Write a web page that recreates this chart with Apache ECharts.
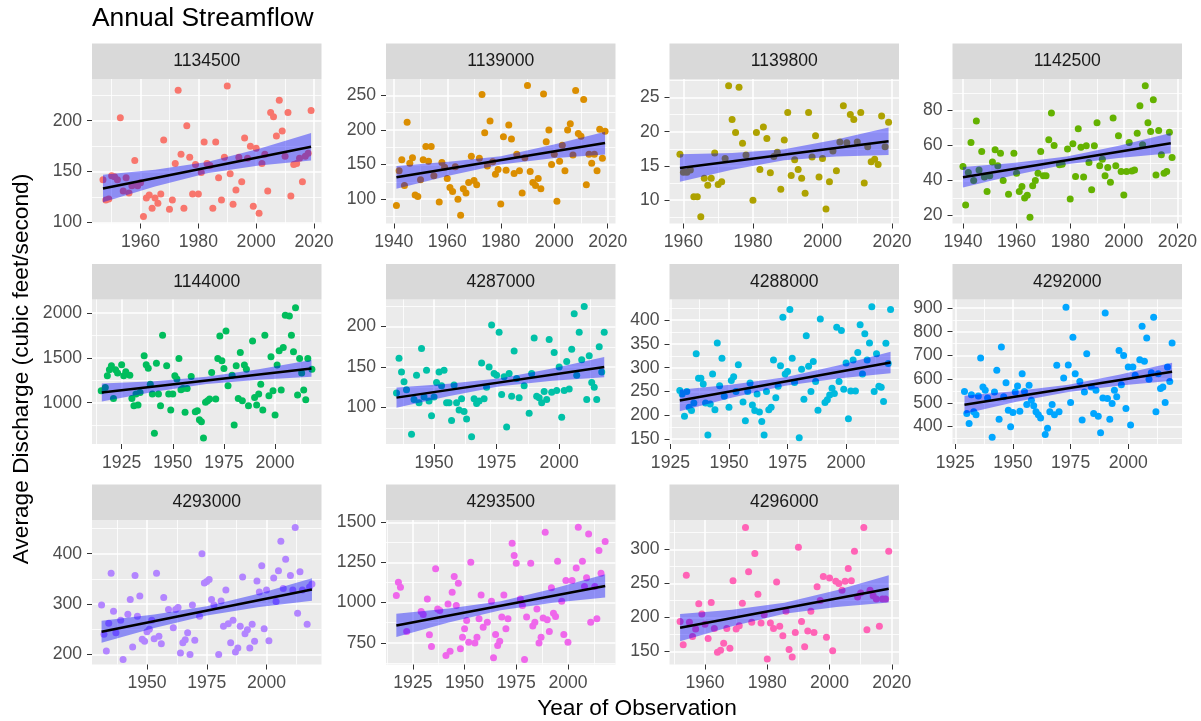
<!DOCTYPE html>
<html><head><meta charset="utf-8">
<script src="https://cdn.jsdelivr.net/npm/echarts@6/dist/echarts.min.js"></script>
<style>html,body{margin:0;padding:0;background:#fff}#c{width:1201px;height:721px}</style>
</head><body><div id="c"></div>
<script>
const stations = ['1134500','1139000','1139800','1142500','1144000','4287000','4288000','4292000','4293000','4293500','4296000'];
const colors = ['#F8766D','#DB8E00','#AEA200','#64B200','#00BD5C','#00C1A7','#00BADE','#00A6FF','#B385FF','#EF67EB','#FF63B6'];

const flow_1134500 = [[1947,142],[1948,122],[1949,123],[1950,146],[1951,145],[1952,142],[1953,203],[1954,131],[1955,144],[1956,129],[1957,136],[1958,161],[1959,136],[1960,139],[1961,106],[1962,124],[1963,127],[1964,114],[1965,124],[1966,119],[1967,128],[1968,181],[1970,113],[1971,122],[1972,158],[1973,230],[1974,167],[1975,114],[1976,195],[1977,164],[1978,128],[1979,157],[1980,128],[1981,149],[1982,179],[1983,158],[1984,156],[1985,114],[1986,179],[1987,144],[1988,122],[1989,164],[1990,234],[1991,148],[1992,118],[1993,132],[1994,164],[1995,140],[1996,183],[1997,163],[1998,175],[1999,116],[2000,173],[2001,109],[2002,158],[2003,167],[2004,131],[2005,208],[2006,204],[2007,185],[2008,220],[2009,190],[2010,165],[2011,208],[2012,126],[2013,157],[2014,158],[2015,163],[2016,140],[2017,165],[2018,168],[2019,210]];
const flow_1139000 = [[1941,91],[1942,141],[1943,157],[1944,120],[1945,211],[1946,152],[1947,160],[1948,106],[1949,104],[1950,128],[1951,157],[1952,176],[1953,155],[1954,176],[1955,134],[1957,96],[1958,153],[1959,146],[1960,130],[1961,117],[1962,111],[1963,147],[1964,100],[1965,77],[1966,115],[1967,109],[1968,124],[1969,162],[1970,127],[1971,121],[1972,159],[1973,251],[1974,196],[1975,148],[1976,213],[1977,154],[1978,136],[1979,143],[1980,93],[1981,190],[1982,142],[1983,207],[1984,187],[1985,137],[1986,165],[1987,141],[1988,109],[1989,160],[1990,264],[1991,140],[1992,124],[1993,120],[1994,130],[1995,115],[1996,252],[1997,183],[1998,200],[1999,150],[2000,165],[2001,97],[2002,155],[2003,178],[2004,141],[2005,200],[2006,209],[2007,164],[2008,257],[2009,195],[2010,191],[2011,244],[2012,121],[2013,165],[2014,152],[2015,165],[2016,141],[2017,201],[2018,159],[2019,198]];
const flow_1139800 = [[1959,16.7],[1960,14.1],[1961,14.1],[1962,14.4],[1963,10.5],[1964,10.5],[1965,7.6],[1966,13.2],[1967,12.2],[1968,13.2],[1969,16.9],[1970,12.3],[1971,12.7],[1972,16.1],[1973,26.7],[1974,21.8],[1975,19.9],[1976,26.5],[1977,18.3],[1978,16.6],[1980,10.0],[1981,19.9],[1982,14.5],[1983,20.7],[1984,19.0],[1985,14.0],[1986,16.4],[1987,17.0],[1988,11.6],[1989,18.8],[1990,22.8],[1991,13.6],[1992,15.9],[1993,14.5],[1994,13.2],[1995,11.0],[1996,22.8],[1997,16.3],[1998,19.4],[1999,13.4],[2000,16.1],[2001,8.7],[2002,12.7],[2003,17.2],[2004,14.3],[2005,18.5],[2006,23.8],[2007,18.4],[2008,22.5],[2009,21.8],[2010,18.5],[2011,22.8],[2012,12.5],[2013,17.8],[2014,15.6],[2015,16.0],[2016,15.2],[2017,22.3],[2018,17.8],[2019,21.4]];
const flow_1142500 = [[1940,48],[1941,26],[1942,44.6],[1943,61.7],[1944,40],[1945,74],[1946,46],[1947,56.6],[1948,42],[1949,33.7],[1950,42.7],[1951,50.5],[1952,57.5],[1953,48.4],[1954,55.6],[1955,40],[1957,32.2],[1959,55.6],[1960,44.2],[1961,33.7],[1962,36.6],[1963,30],[1964,31.6],[1965,19],[1966,37],[1967,40],[1968,44.2],[1969,56.6],[1970,42.7],[1971,42.7],[1972,63.2],[1973,78.5],[1974,60],[1976,49],[1977,49.3],[1979,58],[1980,29.5],[1981,61],[1982,42.3],[1983,69.5],[1984,59],[1985,42],[1986,59.8],[1987,50.3],[1988,34.7],[1989,59.8],[1990,73],[1991,48.4],[1992,52.2],[1993,42.7],[1994,47.4],[1995,39],[1996,75.6],[1997,48.4],[1998,65.5],[1999,45.1],[2000,31.8],[2001,45.1],[2002,61.7],[2003,45.5],[2004,46],[2005,67],[2006,82.7],[2007,60.4],[2008,94],[2009,73],[2010,68],[2011,86],[2012,43.2],[2013,68.6],[2014,54.7],[2015,44.2],[2016,45.1],[2017,67.6],[2018,53.1]];
const flow_1144000 = [[1915,1133],[1917,1170],[1918,1300],[1919,1367],[1920,1411],[1921,1048],[1922,1367],[1923,1330],[1925,1422],[1926,1300],[1927,1344],[1929,1307],[1930,1048],[1931,967],[1932,1096],[1933,974],[1934,1115],[1936,1522],[1937,1422],[1938,1385],[1939,1207],[1940,1096],[1941,659],[1942,1441],[1943,1096],[1944,967],[1945,1752],[1947,1411],[1948,1096],[1949,919],[1950,1096],[1951,1300],[1952,1263],[1953,1493],[1954,1144],[1955,1159],[1956,893],[1957,1159],[1959,1293],[1961,900],[1962,911],[1963,811],[1964,789],[1965,607],[1966,1004],[1967,1022],[1968,1041],[1969,1337],[1971,1041],[1972,1493],[1973,1744],[1974,1467],[1975,1381],[1976,1800],[1977,1189],[1979,1307],[1980,752],[1981,1411],[1982,1048],[1983,1559],[1984,1022],[1985,1419],[1986,1374],[1987,967],[1989,1689],[1990,1059],[1991,974],[1992,1096],[1993,1207],[1994,919],[1995,1752],[1997,1078],[1998,1511],[1999,1133],[2000,863],[2001,1419],[2002,1578],[2003,1141],[2004,1615],[2005,1974],[2007,1967],[2008,1752],[2009,1567],[2010,2059],[2011,1085],[2012,1493],[2013,1330],[2014,1141],[2015,1033],[2016,1493],[2018,1374]];
const flow_4287000 = [[1935,118],[1936,161],[1937,144],[1938,132],[1939,122],[1941,67],[1942,110],[1943,140],[1944,106],[1945,173],[1946,113],[1947,146],[1948,108],[1949,90],[1950,113],[1951,131],[1952,144],[1953,127],[1954,146],[1955,106],[1956,106],[1957,84],[1958,128],[1959,106],[1960,97],[1961,111],[1962,95],[1963,86],[1965,64],[1966,111],[1967,105],[1968,108],[1969,155],[1970,111],[1971,125],[1972,150],[1973,202],[1974,142],[1975,140],[1976,193],[1977,116],[1978,138],[1979,76],[1980,142],[1981,114],[1982,170],[1983,136],[1984,112],[1986,127],[1988,93],[1989,142],[1990,186],[1991,114],[1992,112],[1993,106],[1994,120],[1995,110],[1996,184],[1997,119],[1998,168],[1999,121],[2000,150],[2001,88],[2002,121],[2003,157],[2004,123],[2005,172],[2006,216],[2007,140],[2008,193],[2009,159],[2010,225],[2011,110],[2012,164],[2013,131],[2014,125],[2015,110],[2016,175],[2017,144],[2018,193]];
const flow_4288000 = [[1929,252],[1930,245],[1931,198],[1932,250],[1933,217],[1934,210],[1935,226],[1936,329],[1937,278],[1938,278],[1939,266],[1940,226],[1941,159],[1942,224],[1943,287],[1944,212],[1945,352],[1946,262],[1947,320],[1948,240],[1950,217],[1951,273],[1952,281],[1953,250],[1954,306],[1956,228],[1957,189],[1958,250],[1959,268],[1960,222],[1961,210],[1962,245],[1963,207],[1964,187],[1965,159],[1966,250],[1967,212],[1968,217],[1969,316],[1970,237],[1971,261],[1972,304],[1973,406],[1974,287],[1975,292],[1976,422],[1977,320],[1978,269],[1980,153],[1981,297],[1982,234],[1983,367],[1984,303],[1985,250],[1986,313],[1987,271],[1988,211],[1989,402],[1991,227],[1992,233],[1993,243],[1994,257],[1995,246],[1996,385],[1997,271],[1998,378],[1999,255],[2000,310],[2001,193],[2002,251],[2003,316],[2004,251],[2005,332],[2006,390],[2007,287],[2008,371],[2009,316],[2010,352],[2011,428],[2012,250],[2013,329],[2014,261],[2015,259],[2016,229],[2017,351],[2018,309],[2019,422]];
const flow_4292000 = [[1929,548],[1930,455],[1931,413],[1932,534],[1933,462],[1934,450],[1935,529],[1936,689],[1937,567],[1938,553],[1939,520],[1941,354],[1942,546],[1943,637],[1944,431],[1945,735],[1946,525],[1947,585],[1948,469],[1949,399],[1950,459],[1951,546],[1952,571],[1953,464],[1954,623],[1955,548],[1956,493],[1957,574],[1958,511],[1959,487],[1960,462],[1961,450],[1962,436],[1964,366],[1965,392],[1966,462],[1967,493],[1968,450],[1969,658],[1970,462],[1972,605],[1973,903],[1974,660],[1975,501],[1976,777],[1977,623],[1979,590],[1980,427],[1981,546],[1982,707],[1984,567],[1985,455],[1986,553],[1987,443],[1988,373],[1989,520],[1990,879],[1991,518],[1992,431],[1993,497],[1994,553],[1995,525],[1996,721],[1997,576],[1998,700],[1999,476],[2000,651],[2001,406],[2002,651],[2003,616],[2005,682],[2006,823],[2007,675],[2008,773],[2009,599],[2010,627],[2011,861],[2012,462],[2013,623],[2014,560],[2015,567],[2016,501],[2017,651],[2018,590],[2019,752]];
const flow_4293000 = [[1931,298],[1932,240],[1933,207],[1934,262],[1935,361],[1936,286],[1937,243],[1939,268],[1940,190],[1942,280],[1943,309],[1944,215],[1945,357],[1946,276],[1947,316],[1948,230],[1949,226],[1950,245],[1951,250],[1952,268],[1953,231],[1954,361],[1955,236],[1956,221],[1957,313],[1959,289],[1961,253],[1962,289],[1963,293],[1964,203],[1965,223],[1966,229],[1967,243],[1968,200],[1969,298],[1970,228],[1972,276],[1973,400],[1974,342],[1975,345],[1976,349],[1977,309],[1978,298],[1980,200],[1981,306],[1982,256],[1983,328],[1984,261],[1985,223],[1986,268],[1987,205],[1988,213],[1989,256],[1990,354],[1991,241],[1992,249],[1993,213],[1994,260],[1995,226],[1996,346],[1997,324],[1998,376],[1999,251],[2000,328],[2001,227],[2003,352],[2004,305],[2005,366],[2006,425],[2007,331],[2008,389],[2010,357],[2011,328],[2012,452],[2013,282],[2014,364],[2015,328],[2017,260],[2018,334],[2019,340]];
const flow_4293500 = [[1917,1044],[1918,1127],[1919,1096],[1922,820],[1929,945],[1930,926],[1932,1023],[1933,800],[1934,727],[1936,1210],[1937,961],[1938,951],[1941,671],[1942,992],[1943,698],[1944,1065],[1945,1162],[1946,982],[1947,1121],[1948,713],[1949,785],[1950,837],[1951,889],[1952,754],[1953,1251],[1955,748],[1956,785],[1957,899],[1958,1048],[1959,847],[1961,878],[1963,1009],[1964,657],[1965,802],[1966,733],[1967,760],[1968,910],[1969,1048],[1970,837],[1971,899],[1973,1369],[1974,1293],[1975,1245],[1977,1023],[1978,982],[1979,646],[1980,910],[1982,1245],[1983,854],[1984,878],[1985,961],[1986,748],[1987,785],[1988,905],[1989,1438],[1990,893],[1991,820],[1992,1092],[1993,934],[1994,914],[1995,1258],[1997,1009],[1998,802],[1999,1137],[2000,754],[2002,1137],[2004,1216],[2005,1469],[2007,1258],[2008,1100],[2009,1154],[2010,1427],[2011,878],[2013,1100],[2014,899],[2015,1324],[2016,1183],[2018,1380]];
const flow_4296000 = [[1952,194],[1953,160],[1954,262],[1955,193],[1956,172],[1957,183],[1958,220],[1959,205],[1960,190],[1961,169],[1962,222],[1963,184],[1964,149],[1965,152],[1966,162],[1967,184],[1968,155],[1969,254],[1970,183],[1971,188],[1972,221],[1973,332],[1974,267],[1975,193],[1976,294],[1977,234],[1978,192],[1979,204],[1980,139],[1981,192],[1982,184],[1983,252],[1984,187],[1985,173],[1986,209],[1987,153],[1988,142],[1989,178],[1990,303],[1991,194],[1992,157],[1993,180],[1994,209],[1995,178],[1996,245],[1997,225],[1998,260],[1999,171],[2000,258],[2001,151],[2002,253],[2003,250],[2004,240],[2005,253],[2006,272],[2007,254],[2008,297],[2009,230],[2010,236],[2011,332],[2012,182],[2013,240],[2014,232],[2015,227],[2016,187],[2017,227],[2018,227],[2019,297]];

// fitted line end points and confidence band [year, lower, upper]
const fit_1134500 = [[1947,133.3],[2019,174.5]];
const band_1134500 = [[1947,119.8,146.8],[1965,135.3,151.9],[1983,148.4,159.4],[2001,155.9,172.5],[2019,161,188]];
const fit_1139000 = [[1941,131.6],[2019,181]];
const band_1139000 = [[1941,115,148],[1960.5,134,154],[1980,150,162],[1999.5,159,178.5],[2019,164.5,197.5]];
const fit_1139800 = [[1959,14.7],[2019,18.6]];
const band_1139800 = [[1959,12.7,16.7],[1974,14.45,16.9],[1989,15.85,17.45],[2004,16.4,18.85],[2019,16.6,20.6]];
const fit_1142500 = [[1940,41.9],[2017.5,61.3]];
const band_1142500 = [[1940,36.1,47.7],[1959.4,43.2,50.2],[1978.75,49.35,53.75],[1998.1,52.9,59.9],[2017.5,55.5,67.1]];
const fit_1144000 = [[1915.3,1114],[2017.8,1382]];
const band_1144000 = [[1915.3,1013,1215],[1941,1122,1240],[1966.5,1208,1288],[1992,1255,1373],[2017.8,1288,1476]];
const fit_4287000 = [[1935,112.3],[2018,150]];
const band_4287000 = [[1935,99.8,124.8],[1955.75,114.1,129.3],[1976.5,126.2,136.2],[1997.25,133,148.2],[2018,137.5,162.5]];
const fit_4288000 = [[1929,231],[2019,311]];
const band_4288000 = [[1929,208.5,253.5],[1951.5,237.3,264.7],[1974,262,280],[1996.5,277.3,304.7],[2019,288.5,333.5]];
const fit_4292000 = [[1929,492],[2019,631]];
const band_4292000 = [[1929,454,530],[1951.5,504,550],[1974,546,576],[1996.5,573,619],[2019,593,669]];
const fit_4293000 = [[1931,245],[2019,329]];
const band_4293000 = [[1931,223,267],[1953,252.5,279.5],[1975,277.5,295.5],[1997,294,321],[2019,306.5,351.5]];
const fit_4293500 = [[1917,858],[2018,1104]];
const band_4293500 = [[1917,786,930],[1942.25,876,963],[1967.5,953,1009],[1992.75,999,1086],[2018,1032,1176]];
const fit_4296000 = [[1952,185],[2019,242]];
const band_4296000 = [[1952,165,205],[1968.75,187,211.5],[1985.5,205.5,221.5],[2002.25,215.5,240],[2019,222,262]];

// tick labels
const yearTicks20 = [1940,1960,1980,2000,2020];
const yearMinor20 = [1930,1950,1970,1990,2010];
const yearTicks25 = [1925,1950,1975,2000];
const yearMinor25 = [1912.5,1937.5,1962.5,1987.5,2012.5];
const yTicks_1134500 = [100,150,200], yMinor_1134500 = [125,175,225];
const yTicks_1139000 = [100,150,200,250], yMinor_1139000 = [75,125,175,225];
const yTicks_1139800 = [10,15,20,25], yMinor_1139800 = [7.5,12.5,17.5,22.5,27.5];
const yTicks_1142500 = [20,40,60,80], yMinor_1142500 = [30,50,70,90];
const yTicks_1144000 = [1000,1500,2000], yMinor_1144000 = [750,1250,1750];
const yTicks_4287000 = [100,150,200], yMinor_4287000 = [75,125,175,225];
const yTicks_4288000 = [150,200,250,300,350,400], yMinor_4288000 = [175,225,275,325,375,425];
const yTicks_4292000 = [400,500,600,700,800,900], yMinor_4292000 = [350,450,550,650,750,850];
const yTicks_4293000 = [200,300,400], yMinor_4293000 = [250,350,450];
const yTicks_4293500 = [750,1000,1250,1500], yMinor_4293500 = [625,875,1125,1375];
const yTicks_4296000 = [150,200,250,300], yMinor_4296000 = [175,225,275,325];

// axis limits
const xLim_1134500 = [1943.2,2022.6], yLim_1134500 = [99,241];
const xLim_1139000 = [1937.1,2022.9], yLim_1139000 = [65,273.5];
const xLim_1139800 = [1956,2022], yLim_1139800 = [6.6,27.7];
const xLim_1142500 = [1936.1,2021.7], yLim_1142500 = [15.5,97.9];
const xLim_1144000 = [1910.5,2022.7], yLim_1144000 = [540,2150];
const xLim_4287000 = [1930.8,2022.5], yLim_4287000 = [55,233.5];
const xLim_4288000 = [1924.6,2022.6], yLim_4288000 = [140,443];
const xLim_4292000 = [1923.8,2023.3], yLim_4292000 = [326,936];
const xLim_4293000 = [1927,2023], yLim_4293000 = [180,467];
const xLim_4293500 = [1912,2023], yLim_4293500 = [615,1514];
const xLim_4296000 = [1948.6,2022.3], yLim_4296000 = [131,343];

const panels = [
  {flow:flow_1134500, fit:fit_1134500, band:band_1134500, xl:xLim_1134500, yl:yLim_1134500, xt:yearTicks20, xm:yearMinor20, yt:yTicks_1134500, ym:yMinor_1134500},
  {flow:flow_1139000, fit:fit_1139000, band:band_1139000, xl:xLim_1139000, yl:yLim_1139000, xt:yearTicks20, xm:yearMinor20, yt:yTicks_1139000, ym:yMinor_1139000},
  {flow:flow_1139800, fit:fit_1139800, band:band_1139800, xl:xLim_1139800, yl:yLim_1139800, xt:yearTicks20, xm:yearMinor20, yt:yTicks_1139800, ym:yMinor_1139800},
  {flow:flow_1142500, fit:fit_1142500, band:band_1142500, xl:xLim_1142500, yl:yLim_1142500, xt:yearTicks20, xm:yearMinor20, yt:yTicks_1142500, ym:yMinor_1142500},
  {flow:flow_1144000, fit:fit_1144000, band:band_1144000, xl:xLim_1144000, yl:yLim_1144000, xt:yearTicks25, xm:yearMinor25, yt:yTicks_1144000, ym:yMinor_1144000},
  {flow:flow_4287000, fit:fit_4287000, band:band_4287000, xl:xLim_4287000, yl:yLim_4287000, xt:yearTicks25, xm:yearMinor25, yt:yTicks_4287000, ym:yMinor_4287000},
  {flow:flow_4288000, fit:fit_4288000, band:band_4288000, xl:xLim_4288000, yl:yLim_4288000, xt:yearTicks25, xm:yearMinor25, yt:yTicks_4288000, ym:yMinor_4288000},
  {flow:flow_4292000, fit:fit_4292000, band:band_4292000, xl:xLim_4292000, yl:yLim_4292000, xt:yearTicks25, xm:yearMinor25, yt:yTicks_4292000, ym:yMinor_4292000},
  {flow:flow_4293000, fit:fit_4293000, band:band_4293000, xl:xLim_4293000, yl:yLim_4293000, xt:yearTicks25, xm:yearMinor25, yt:yTicks_4293000, ym:yMinor_4293000},
  {flow:flow_4293500, fit:fit_4293500, band:band_4293500, xl:xLim_4293500, yl:yLim_4293500, xt:yearTicks25, xm:yearMinor25, yt:yTicks_4293500, ym:yMinor_4293500},
  {flow:flow_4296000, fit:fit_4296000, band:band_4296000, xl:xLim_4296000, yl:yLim_4296000, xt:yearTicks20, xm:yearMinor20, yt:yTicks_4296000, ym:yMinor_4296000}
];

// layout
const FONT = '"Liberation Sans", Arial, sans-serif';
const colLeft = [92, 386, 669.5, 952.5];
const panelW = 229.5;
const stripTop = [43.5, 264, 484.5];
const stripH = 35.5;
const panelH = 144.5;
const N = panels.length;

const grids = [], xAxes = [], yAxes = [], series = [], graphics = [];
const inRange = (arr, lim) => arr.filter(v => v >= lim[0] && v <= lim[1]);

function majorAxis(i, lim, ticks) {
  return {type: 'value', gridIndex: i, min: lim[0], max: lim[1],
    axisLine: {show: false},
    axisTick: {show: true, customValues: ticks, length: 5, lineStyle: {color: '#333333', width: 1}},
    axisLabel: {customValues: ticks, color: '#4D4D4D', fontSize: 17.6, fontFamily: FONT, margin: 10, formatter: v => String(v)},
    splitLine: {show: true, lineStyle: {color: '#FFFFFF', width: 1.5}}};
}
function minorAxis(i, lim, ticks) {
  return {type: 'value', gridIndex: i, min: lim[0], max: lim[1], silent: true,
    axisLine: {show: false},
    axisTick: {show: false, customValues: ticks},
    axisLabel: {show: false, customValues: ticks},
    splitLine: {show: true, lineStyle: {color: '#FFFFFF', width: 0.8}}};
}

panels.forEach((p, i) => {
  const r = Math.floor(i / 4), c = i % 4;
  const left = colLeft[c], top = stripTop[r] + stripH;
  grids.push({left: left, top: top, width: panelW, height: panelH, show: true,
    backgroundColor: '#EBEBEB', borderWidth: 0, containLabel: false, outerBoundsMode: 'none'});
  xAxes[i] = majorAxis(i, p.xl, inRange(p.xt, p.xl));
  yAxes[i] = majorAxis(i, p.yl, inRange(p.yt, p.yl));
  xAxes[N + i] = minorAxis(i, p.xl, inRange(p.xm, p.xl));
  yAxes[N + i] = minorAxis(i, p.yl, inRange(p.ym, p.yl));
  // points
  series.push({type: 'scatter', xAxisIndex: i, yAxisIndex: i, data: p.flow, symbolSize: 7,
    itemStyle: {color: colors[i], opacity: 1}, z: 2, silent: true});
  // confidence band
  const band = p.band;
  series.push({type: 'custom', xAxisIndex: i, yAxisIndex: i, data: band, z: 3, silent: true,
    encode: {x: 0, y: 1},
    renderItem: (params, api) => {
      if (params.dataIndex !== 0) return null;
      const up = band.map(b => api.coord([b[0], b[2]]));
      const lo = band.map(b => api.coord([b[0], b[1]])).reverse();
      return {type: 'polygon', shape: {points: up.concat(lo)}, style: {fill: 'rgba(0,0,255,0.4)', stroke: null}};
    }});
  // fitted line
  series.push({type: 'line', xAxisIndex: i, yAxisIndex: i, data: p.fit, showSymbol: false, z: 4, silent: true,
    lineStyle: {color: '#000000', width: 2.5}});
  // strip
  graphics.push({type: 'rect', shape: {x: left, y: stripTop[r], width: panelW, height: stripH},
    style: {fill: '#D9D9D9'}, silent: true});
  graphics.push({type: 'text', x: left + panelW / 2, y: stripTop[r] + stripH / 2,
    style: {text: stations[i], fontSize: 17.6, fontFamily: FONT, fill: '#1A1A1A', align: 'center', verticalAlign: 'middle'}, silent: true});
});

graphics.push({type: 'text', x: 92, y: 19, style: {text: 'Annual Streamflow', fontSize: 26.4, fontFamily: FONT, fill: '#000000', align: 'left', verticalAlign: 'middle'}});
graphics.push({type: 'text', x: 637, y: 709, style: {text: 'Year of Observation', fontSize: 22.7, fontFamily: FONT, fill: '#000000', align: 'center', verticalAlign: 'middle'}});
graphics.push({type: 'text', x: 22, y: 369, rotation: Math.PI / 2, style: {text: 'Average Discharge (cubic feet/second)', fontSize: 22.7, fontFamily: FONT, fill: '#000000', align: 'center', verticalAlign: 'middle'}});

const chart = echarts.init(document.getElementById('c'), null, {renderer: 'canvas'});
chart.setOption({
  animation: false,
  backgroundColor: '#FFFFFF',
  grid: grids, xAxis: xAxes, yAxis: yAxes, series: series, graphic: graphics
});
</script></body></html>
